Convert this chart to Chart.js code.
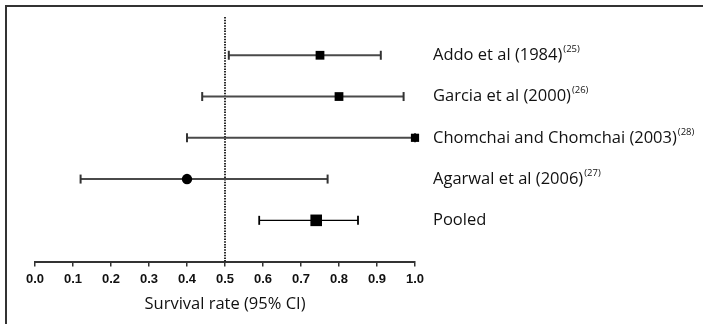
<!DOCTYPE html>
<html>
<head>
<meta charset="utf-8">
<script src="https://cdn.jsdelivr.net/npm/chart.js@4.4.0/dist/chart.umd.min.js"></script>
<style>
html, body { margin: 0; padding: 0; background: #fff; }
#wrap { position: relative; width: 703px; height: 324px; }
#frame { position: absolute; left: 5px; top: 5px; right: 0; bottom: 0; border-top: 2px solid #333; border-left: 2px solid #333; }
canvas { position: absolute; left: 0; top: 0; }
</style>
</head>
<body>
<div id="wrap"><div id="frame"></div><canvas id="forest" width="703" height="324"></canvas></div>
<script>
// study data
const studies = ['Addo et al (1984)', 'Garcia et al (2000)', 'Chomchai and Chomchai (2003)', 'Agarwal et al (2006)', 'Pooled'];
const refs = ['(25)', '(26)', '(28)', '(27)', ''];
const estimate = [0.75, 0.80, 1.00, 0.40, 0.74];
const lower = [0.51, 0.44, 0.40, 0.12, 0.59];
const upper = [0.91, 0.97, 1.00, 0.77, 0.85];
const rowPos = [5, 4, 3, 2, 1];
const xTicks = [0.0, 0.1, 0.2, 0.3, 0.4, 0.5, 0.6, 0.7, 0.8, 0.9, 1.0];
const refLineX = 0.5;
const refLineSpan = [0, 5.93];

const markerStyle = ['rect', 'rect', 'rect', 'circle', 'rect'];
const markerRadius = [6.2, 6.2, 5.8, 5.2, 8.2];

var datasets = [];

// point estimates (drawn on top)
datasets.push({
    data: estimate.map((v, i) => ({x: v, y: rowPos[i]})),
    pointStyle: markerStyle,
    pointRadius: markerRadius,
    backgroundColor: '#000',
    borderColor: '#000',
    borderWidth: 0,
    clip: false,
    order: 0
});

// confidence intervals with caps
studies.forEach((name, i) => {
    var pooled = name === 'Pooled';
    datasets.push({
        data: [{x: lower[i], y: rowPos[i]}, {x: upper[i], y: rowPos[i]}],
        showLine: true,
        borderColor: pooled ? '#000' : '#4a4a4a',
        borderWidth: pooled ? 1.2 : 2,
        pointStyle: 'line',
        rotation: 90,
        pointRadius: 4.5,
        pointBorderWidth: pooled ? 1.8 : 2,
        pointBorderColor: pooled ? '#000' : '#333',
        clip: false,
        order: 1
    });
});

// reference line at 0.5
datasets.push({
    data: refLineSpan.map(y => ({x: refLineX, y: y})),
    showLine: true,
    borderColor: '#111',
    borderWidth: 1.8,
    borderDash: [1.5, 1.2],
    pointRadius: 0,
    order: 2
});

const studyLabels = {
    id: 'studyLabels',
    afterDatasetsDraw(chart) {
        const ctx = chart.ctx;
        const xs = chart.scales.x, ys = chart.scales.y;
        ctx.save();
        ctx.fillStyle = '#111';
        ctx.textBaseline = 'middle';
        studies.forEach((name, i) => {
            var y = ys.getPixelForValue(rowPos[i]);
            var x = xs.right + 18;
            ctx.font = '16.5px "Open Sans"';
            ctx.fillText(name, x, y);
            var w = ctx.measureText(name).width;
            if (refs[i]) {
                ctx.font = '9.5px "Open Sans"';
                ctx.fillText(refs[i], x + w + 1, y - 6);
            }
        });
        ctx.restore();
    }
};

new Chart(document.getElementById('forest'), {
    type: 'scatter',
    data: {datasets: datasets},
    options: {
        responsive: false,
        animation: false,
        layout: {padding: {left: 35, right: 288, top: 14, bottom: 10}},
        plugins: {legend: {display: false}, tooltip: {enabled: false}},
        scales: {
            x: {
                type: 'linear',
                min: 0,
                max: 1,
                afterBuildTicks: (s) => { s.ticks = xTicks.map(v => ({value: v})); },
                ticks: {
                    callback: (v) => Number(v).toFixed(1),
                    font: {family: 'Liberation Sans', size: 13, weight: 'bold'},
                    color: '#111',
                    padding: 5,
                    maxRotation: 0,
                    autoSkip: false
                },
                grid: {drawOnChartArea: false, tickLength: 5, color: '#333', lineWidth: 1.5},
                border: {color: '#333', width: 2},
                title: {
                    display: true,
                    text: 'Survival rate (95% CI)',
                    font: {family: 'Open Sans', size: 16.5},
                    color: '#111',
                    padding: {top: 2, bottom: 0}
                }
            },
            y: {type: 'linear', min: 0, max: 6, display: false}
        }
    },
    plugins: [studyLabels]
});
</script>
</body>
</html>
